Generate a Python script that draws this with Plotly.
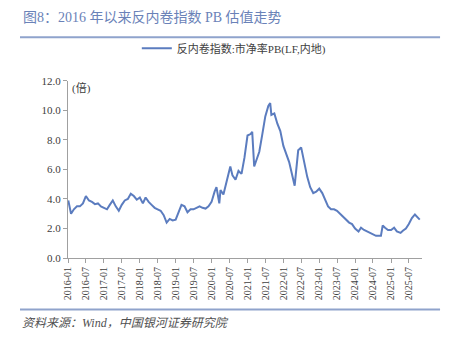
import plotly.graph_objects as go

dates = [
    "2016-01-04","2016-01-20","2016-02-01","2016-03-01","2016-04-01","2016-05-01","2016-06-01","2016-07-01",
    "2016-08-01","2016-09-01","2016-10-01","2016-11-01","2016-12-01",
    "2017-01-01","2017-02-01","2017-03-01","2017-04-01","2017-05-01","2017-06-01","2017-07-01",
    "2017-08-01","2017-09-01","2017-10-01","2017-11-01","2017-12-01",
    "2018-01-01","2018-02-01","2018-03-01","2018-04-01","2018-05-01","2018-06-01","2018-07-01",
    "2018-08-01","2018-09-01","2018-10-01","2018-11-01","2018-12-01",
    "2019-01-01","2019-02-01","2019-03-01","2019-04-01","2019-05-01","2019-06-01","2019-07-01",
    "2019-08-01","2019-09-01","2019-10-01","2019-11-01","2019-12-01",
    "2020-01-01","2020-02-01","2020-02-20","2020-03-20","2020-04-01","2020-05-01","2020-06-01","2020-07-10",
    "2020-08-01","2020-09-01","2020-10-01","2020-11-01","2020-12-01",
    "2021-01-01","2021-02-01","2021-02-18","2021-03-10","2021-04-01","2021-05-01","2021-06-01","2021-07-01",
    "2021-08-01","2021-08-20","2021-09-01","2021-10-01","2021-11-01","2021-12-01",
    "2022-01-01","2022-02-01","2022-03-01","2022-04-26","2022-05-15","2022-06-01","2022-07-01",
    "2022-08-01","2022-09-01","2022-10-01","2022-11-01","2022-12-01",
    "2023-01-01","2023-02-01","2023-03-01","2023-04-01","2023-05-01","2023-06-01","2023-07-01",
    "2023-08-01","2023-09-01","2023-10-01","2023-11-01","2023-12-01",
    "2024-01-01","2024-02-05","2024-03-01","2024-04-01","2024-05-01","2024-06-01","2024-07-01",
    "2024-08-01","2024-09-20","2024-10-08","2024-11-01","2024-12-01",
    "2025-01-01","2025-02-01","2025-03-01","2025-04-08","2025-05-01","2025-06-01","2025-07-01",
    "2025-08-01","2025-09-01","2025-10-01","2025-10-20",
]
pb = [
    3.9, 3.2, 3.0, 3.3, 3.5, 3.5, 3.7, 4.2,
    3.9, 3.8, 3.65, 3.7, 3.5,
    3.4, 3.3, 3.6, 3.9, 3.5, 3.2, 3.6,
    3.9, 4.0, 4.35, 4.2, 3.95,
    4.1, 3.7, 4.1, 3.8, 3.6, 3.4, 3.3,
    3.2, 2.9, 2.4, 2.65, 2.55,
    2.6, 3.2, 3.6, 3.5, 3.1, 3.3, 3.3,
    3.4, 3.5, 3.4, 3.35, 3.5,
    3.8, 4.5, 4.8, 3.7, 4.6, 4.3, 5.2, 6.2,
    5.6, 5.3, 5.9, 5.7, 6.8,
    8.3, 8.4, 8.55, 6.2, 6.6, 7.2, 8.4, 9.6,
    10.3, 10.5, 9.7, 9.8, 9.1, 8.6,
    7.6, 7.0, 6.5, 4.9, 6.0, 7.3, 7.5,
    6.5, 5.5, 4.8, 4.4, 4.5,
    4.7, 4.4, 4.0, 3.5, 3.3, 3.3, 3.2,
    3.0, 2.75, 2.6, 2.4, 2.3,
    2.0, 1.8, 2.05, 1.9, 1.8, 1.65, 1.55,
    1.5, 1.5, 2.2, 2.05, 1.9,
    1.9, 2.05, 1.8, 1.7, 1.85, 2.0, 2.3,
    2.7, 2.95, 2.75, 2.6,
]

y_ticks = [0, 2, 4, 6, 8, 10, 12]
y_tick_labels = ["0.0", "2.0", "4.0", "6.0", "8.0", "10.0", "12.0"]

title_text = "图8：2016 年以来反内卷指数 PB 估值走势"
series_name = "反内卷指数:市净率PB(LF,内地)"
source_text = "<i>资料来源：Wind，中国银河证券研究院</i>"
unit_text = "(倍)"

LINE = "#5b7cbf"
AX = "#a0a0a0"
FONT = "Noto Sans CJK SC"
SERIF = "Liberation Serif, Noto Sans CJK SC"

fig = go.Figure()
fig.add_trace(go.Scatter(
    x=dates, y=pb, mode="lines", name=series_name,
    line=dict(color=LINE, width=2),
))

fig.update_layout(
    width=454, height=338,
    margin=dict(l=68, r=32, t=76, b=80),
    paper_bgcolor="white", plot_bgcolor="white",
    font=dict(family=FONT, size=11, color="#404040"),
    showlegend=True,
    legend=dict(
        orientation="h", x=0.515, y=0.9, xref="container", yref="container",
        xanchor="center", yanchor="top",
        font=dict(size=11, color="#404040", family=SERIF),
        bgcolor="rgba(0,0,0,0)",
    ),
    xaxis=dict(
        type="date",
        range=["2016-01-01", "2025-11-12"],
        tick0="2016-01-01", dtick="M6", tickformat="%Y-%m",
        tickangle=-90,
        showgrid=False, zeroline=False,
        showline=True, linecolor=AX, linewidth=1,
        ticks="outside", ticklen=4, tickcolor=AX,
        tickfont=dict(size=10, color="#404040", family="Liberation Serif"),
    ),
    yaxis=dict(
        range=[0, 12],
        tickvals=y_ticks, ticktext=y_tick_labels,
        showgrid=False, zeroline=False,
        showline=True, linecolor=AX, linewidth=1,
        ticks="outside", ticklen=4, tickcolor=AX,
        tickfont=dict(size=11, color="#404040", family="Liberation Serif"),
    ),
)

fig.add_annotation(
    text=title_text, xref="paper", yref="paper",
    x=0, y=1, xanchor="left", yanchor="top",
    xshift=-47, yshift=73,
    showarrow=False, font=dict(size=14, color="#6a82b8", family=SERIF),
)
fig.add_shape(type="line", xref="paper", yref="paper",
              x0=-0.1356, x1=1.051, y0=1.247, y1=1.247,
              line=dict(color="#8fa3cc", width=2))
fig.add_shape(type="line", xref="paper", yref="paper",
              x0=-0.1356, x1=1.051, y0=-0.291, y1=-0.291,
              line=dict(color="#8fa3cc", width=2))
fig.add_annotation(
    text=unit_text, xref="paper", yref="paper",
    x=0, y=1, xanchor="left", yanchor="top",
    xshift=2, yshift=2,
    showarrow=False, font=dict(size=11, color="#404040", family=SERIF),
)
fig.add_annotation(
    text=source_text, xref="paper", yref="paper",
    x=0, y=0, xanchor="left", yanchor="top",
    xshift=-48, yshift=-56,
    showarrow=False, font=dict(size=12, color="#505050", family=SERIF),
)

fig.write_html("out.html")
